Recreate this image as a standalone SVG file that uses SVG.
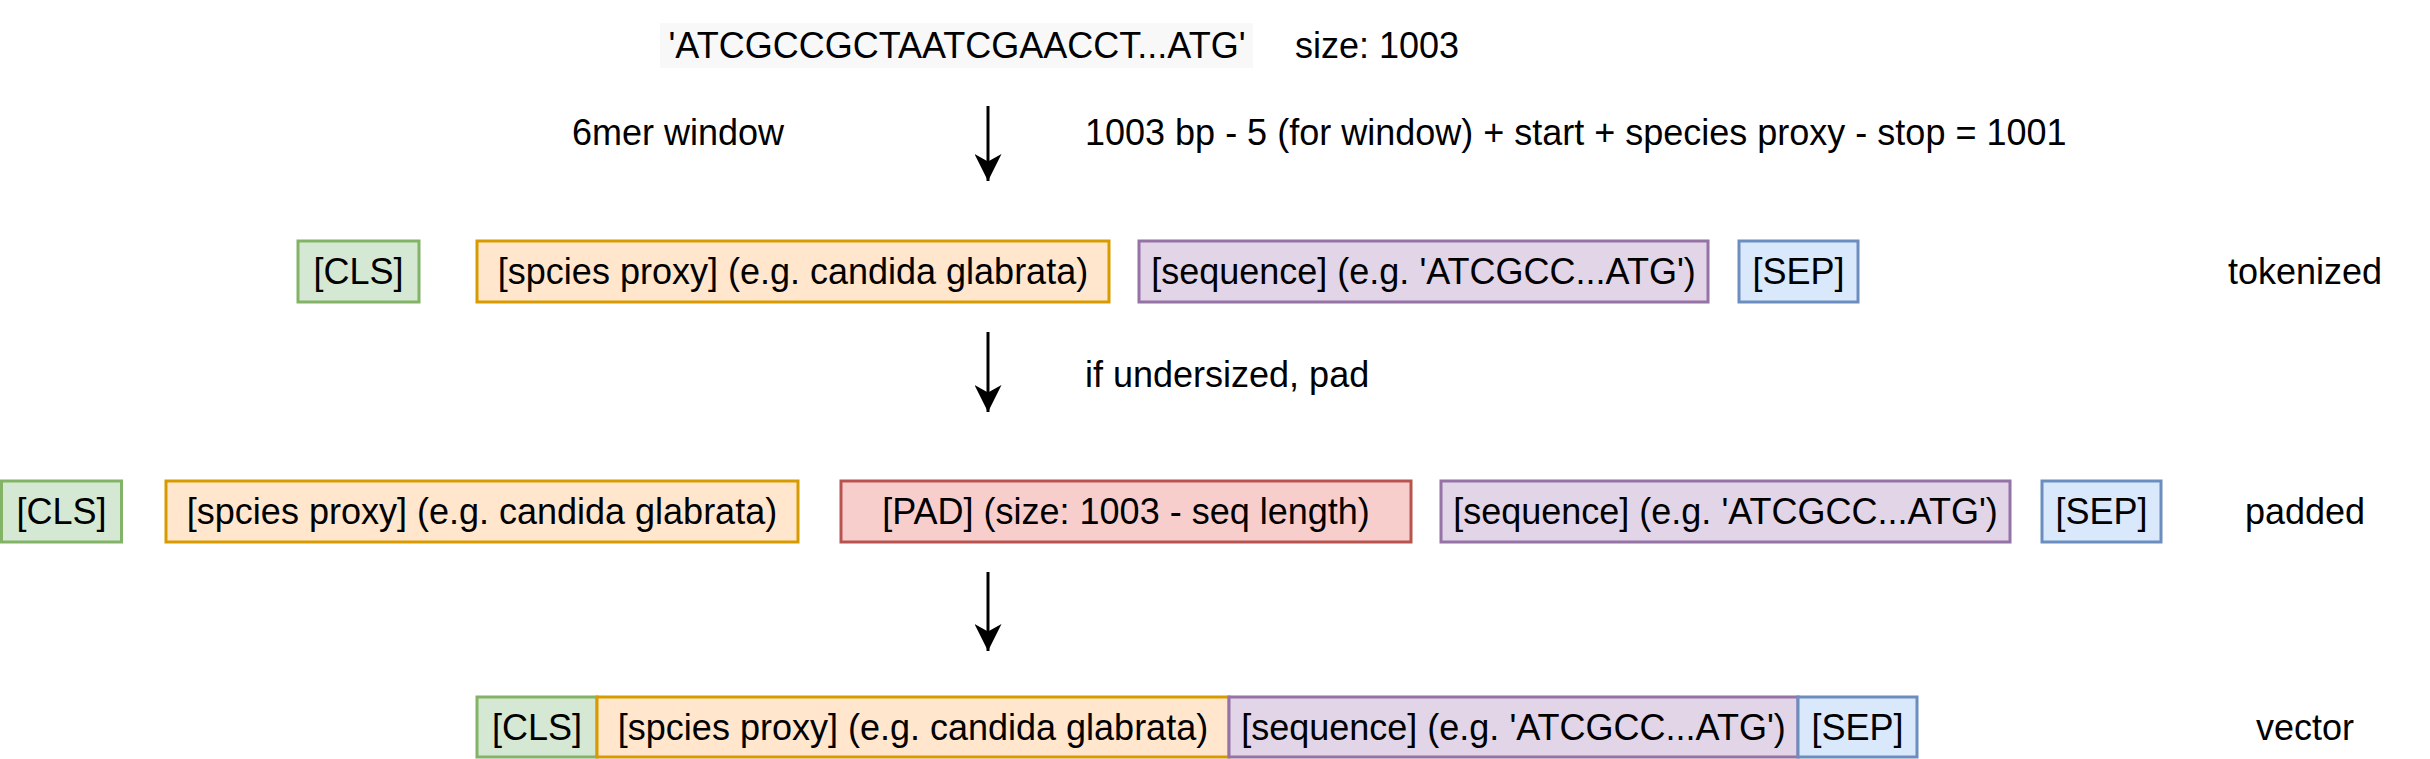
<svg xmlns="http://www.w3.org/2000/svg" width="2430" height="759" viewBox="0 0 2430 759">
<style>
text{font-family:"Liberation Sans",Arial,Helvetica,sans-serif;font-size:36px;fill:#000}
.c{text-anchor:middle}
.box{stroke-width:3}
.green{fill:#d5e8d4;stroke:#82b366}
.orange{fill:#ffe6cc;stroke:#d79b00}
.purple{fill:#e1d5e7;stroke:#9673a6}
.blue{fill:#dae8fc;stroke:#6c8ebf}
.red{fill:#f8cecc;stroke:#b85450}
.arrow{stroke:#000;stroke-width:3;fill:none;marker-end:url(#ah)}
</style>
<defs>
<marker id="ah" markerWidth="9" markerHeight="9" refX="9" refY="4.5" orient="auto" markerUnits="strokeWidth" viewBox="0 0 9 9">
<path d="M0,0 L9,4.5 L0,9 L2.5,4.5 Z" fill="#000"/>
</marker>
</defs>
<rect width="2430" height="759" fill="#fff"/>
<g id="input">
<rect x="660" y="23" width="593" height="45" fill="#f8f8f8"/>
<text class="c" x="957" y="58">'ATCGCCGCTAATCGAACCT...ATG'</text>
</g>
<g id="size-label"><text x="1295" y="58">size: 1003</text></g>
<g id="window-label"><text class="c" x="678" y="145">6mer window</text></g>
<g id="count-label"><text x="1085" y="145">1003 bp - 5 (for window) + start + species proxy - stop = 1001</text></g>
<g id="pad-label"><text x="1085" y="387">if undersized, pad</text></g>

<g id="tok-cls"><rect class="box green" x="298" y="241" width="121" height="61"/><text class="c" x="358.5" y="284">[CLS]</text></g>
<g id="tok-species"><rect class="box orange" x="477" y="241" width="632" height="61"/><text class="c" x="793" y="284">[spcies proxy] (e.g. candida glabrata)</text></g>
<g id="tok-seq"><rect class="box purple" x="1139" y="241" width="569" height="61"/><text class="c" x="1423.5" y="284">[sequence] (e.g. 'ATCGCC...ATG')</text></g>
<g id="tok-sep"><rect class="box blue" x="1739" y="241" width="119" height="61"/><text class="c" x="1798.5" y="284">[SEP]</text></g>
<g id="tokenized"><text class="c" x="2305" y="284">tokenized</text></g>

<g id="pad-cls"><rect class="box green" x="1.5" y="481" width="120" height="61"/><text class="c" x="61.5" y="524">[CLS]</text></g>
<g id="pad-species"><rect class="box orange" x="166" y="481" width="632" height="61"/><text class="c" x="482" y="524">[spcies proxy] (e.g. candida glabrata)</text></g>
<g id="pad-pad"><rect class="box red" x="841" y="481" width="570" height="61"/><text class="c" x="1126" y="524">[PAD] (size: 1003 - seq length)</text></g>
<g id="pad-seq"><rect class="box purple" x="1441" y="481" width="569" height="61"/><text class="c" x="1725.5" y="524">[sequence] (e.g. 'ATCGCC...ATG')</text></g>
<g id="pad-sep"><rect class="box blue" x="2042" y="481" width="119" height="61"/><text class="c" x="2101.5" y="524">[SEP]</text></g>
<g id="padded"><text class="c" x="2305" y="524">padded</text></g>

<g id="vec-cls"><rect class="box green" x="477" y="697" width="120" height="60"/><text class="c" x="537" y="740">[CLS]</text></g>
<g id="vec-species"><rect class="box orange" x="597" y="697" width="632" height="60"/><text class="c" x="913" y="740">[spcies proxy] (e.g. candida glabrata)</text></g>
<g id="vec-seq"><rect class="box purple" x="1229" y="697" width="569" height="60"/><text class="c" x="1513.5" y="740">[sequence] (e.g. 'ATCGCC...ATG')</text></g>
<g id="vec-sep"><rect class="box blue" x="1798" y="697" width="119" height="60"/><text class="c" x="1857.5" y="740">[SEP]</text></g>
<g id="vector"><text class="c" x="2305" y="740">vector</text></g>

<g id="connectors">
<line class="arrow" x1="988" y1="106" x2="988" y2="181"/>
<line class="arrow" x1="988" y1="332" x2="988" y2="412"/>
<line class="arrow" x1="988" y1="572" x2="988" y2="651"/>
</g>
</svg>
